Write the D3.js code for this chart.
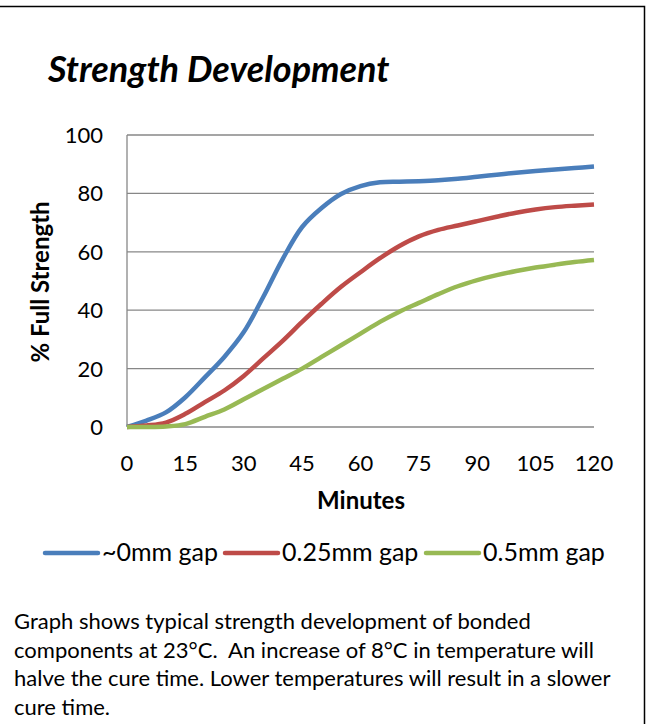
<!doctype html>
<html>
  <head>
    <meta charset="utf-8">
    <title>Strength Development</title>
    <script src="https://cdnjs.cloudflare.com/ajax/libs/d3/7.8.5/d3.min.js"></script>
    <style>
      body { margin: 0; background: #fff; }
      svg { display: block; font-family: Lato, "Open Sans", sans-serif; }
    </style>
  </head>
  <body>
    <div id="chart"></div>
    <script>
      // data
      const minutes = [0, 5, 10, 15, 20, 25, 30, 35, 40, 45, 50, 55, 60, 65, 70, 75, 80, 85, 90, 95, 100, 105, 110, 115, 120];
      const gap0 = [0, 2.2, 5, 10.2, 17, 24, 32.5, 44.5, 57.5, 68.5, 75, 79.8, 82.5, 83.8, 84, 84.2, 84.5, 85, 85.7, 86.4, 87.1, 87.7, 88.2, 88.7, 89.2];
      const gap025 = [0, 0.5, 1.5, 4.5, 8.5, 12.5, 17.5, 23.5, 29.5, 36, 42.2, 48, 53, 57.8, 62, 65.3, 67.5, 69, 70.5, 72, 73.4, 74.5, 75.3, 75.8, 76.2];
      const gap05 = [0, 0, 0.2, 1, 3.5, 6, 9.5, 13, 16.5, 20, 24, 28, 32, 36, 39.5, 42.5, 45.5, 48.2, 50.3, 52, 53.4, 54.6, 55.6, 56.5, 57.2];
      const seriesNames = ['~0mm gap', '0.25mm gap', '0.5mm gap'];
      const seriesColors = ['#4a7ebb', '#be4b48', '#98b954'];
      const xTicks = [0, 15, 30, 45, 60, 75, 90, 105, 120];
      const yTicks = [0, 20, 40, 60, 80, 100];
      const note = [
        'Graph shows typical strength development of bonded',
        'components at 23°C.  An increase of 8°C in temperature will',
        'halve the cure time. Lower temperatures will result in a slower',
        'cure time.'
      ];

      const W = 652, H = 724;
      const svg = d3.select('#chart').append('svg')
        .attr('width', W).attr('height', H);

      // frame (top and right edge only)
      svg.append('path')
        .attr('d', 'M0,6.5 H644.5 V724')
        .attr('fill', 'none').attr('stroke', '#000').attr('stroke-width', 1.5);

      svg.append('text')
        .attr('x', 48).attr('y', 82)
        .style('font-size', '36px').style('font-weight', 'bold').style('font-style', 'italic')
        .text('Strength Development');

      const x = d3.scaleLinear().domain([0, 120]).range([127, 594]);
      const y = d3.scaleLinear().domain([0, 100]).range([427, 135]);

      // gridlines
      svg.append('g').selectAll('line').data(yTicks).join('line')
        .attr('x1', x(0)).attr('x2', x(120))
        .attr('y1', d => y(d)).attr('y2', d => y(d))
        .attr('stroke', '#878787').attr('stroke-width', 1.3);

      svg.append('line')
        .attr('x1', x(0)).attr('x2', x(0)).attr('y1', y(0)).attr('y2', y(100))
        .attr('stroke', '#878787').attr('stroke-width', 1.3);

      svg.append('g').selectAll('text').data(yTicks).join('text')
        .attr('x', 103).attr('y', d => y(d) + 8)
        .attr('text-anchor', 'end')
        .style('font-size', '22px')
        .text(d => d);

      svg.append('g').selectAll('text').data(xTicks).join('text')
        .attr('x', d => x(d)).attr('y', 471)
        .attr('text-anchor', 'middle')
        .style('font-size', '22px')
        .text(d => d);

      svg.append('text')
        .attr('x', 361).attr('y', 509)
        .attr('text-anchor', 'middle')
        .style('font-size', '24px').style('font-weight', 'bold')
        .text('Minutes');

      svg.append('text')
        .attr('transform', 'translate(49,282) rotate(-90)')
        .attr('text-anchor', 'middle')
        .style('font-size', '24px').style('font-weight', 'bold')
        .text('% Full Strength');

      // lines
      const allSeries = [gap0, gap025, gap05];
      const line = d3.line()
        .x((d, i) => x(minutes[i]))
        .y(d => y(d))
        .curve(d3.curveCatmullRom);

      svg.append('g').selectAll('path').data(allSeries).join('path')
        .attr('d', line)
        .attr('fill', 'none')
        .attr('stroke', (d, i) => seriesColors[i])
        .attr('stroke-width', 4.5)
        .attr('stroke-linejoin', 'round');

      // legend
      const legendX = [45, 225, 426];
      const lg = svg.append('g').selectAll('g').data(seriesNames).join('g')
        .attr('transform', (d, i) => `translate(${legendX[i]},553)`);
      lg.append('line')
        .attr('x1', 0).attr('x2', 53)
        .attr('stroke', (d, i) => seriesColors[i])
        .attr('stroke-width', 4.5).attr('stroke-linecap', 'round');
      lg.append('text')
        .attr('x', 57).attr('y', 8)
        .style('font-size', '25px')
        .text(d => d);

      // note below the chart (keep the double space after "23°C.")
      svg.append('g').selectAll('text').data(note).join('text')
        .attr('x', 14).attr('y', (d, i) => 629 + i * 28.5)
        .style('font-size', '22px')
        .style('white-space', 'pre')
        .text(d => d);
    </script>
  </body>
</html>
